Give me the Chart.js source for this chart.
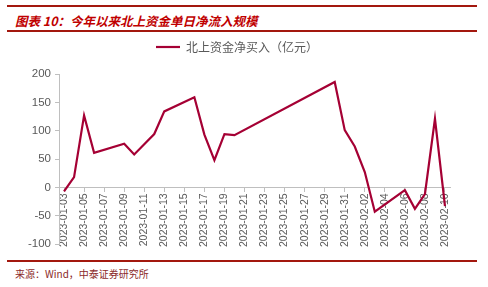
<!DOCTYPE html>
<html>
<head>
<meta charset="utf-8">
<script src="https://cdn.jsdelivr.net/npm/chart.js@4"></script>
<style>
  body { margin: 0; background: #fff; width: 488px; height: 287px; position: relative; overflow: hidden; font-family: "Noto Sans CJK SC", sans-serif; }
  .rule { position: absolute; left: 7px; width: 470px; background: #a3180e; }
  .title { position: absolute; left: 15px; top: 11px; font-size: 12.5px; font-weight: bold; font-style: italic; color: #c00000; white-space: nowrap; }
  .source { position: absolute; left: 15px; top: 266px; font-size: 10px; color: #8b2a2a; white-space: nowrap; font-family: "Noto Sans CJK SC", monospace; }
  #wrap { position: absolute; left: 0; top: 29px; width: 488px; height: 227px; }
</style>
</head>
<body>
<div class="rule" style="top:5px;height:2px"></div>
<div class="title">图表 10：今年以来北上资金单日净流入规模</div>
<div class="rule" style="top:30px;height:2px"></div>
<div id="wrap"><canvas id="northbound"></canvas></div>
<div class="rule" style="top:260px;height:2px"></div>
<div class="source">来源：Wind，中泰证券研究所</div>

<script>
// trading days and net buy (亿元)
const tradeDates = ['2023-01-03', '2023-01-04', '2023-01-05', '2023-01-06', '2023-01-09', '2023-01-10',
  '2023-01-11', '2023-01-12', '2023-01-13', '2023-01-16', '2023-01-17', '2023-01-18', '2023-01-19',
  '2023-01-20', '2023-01-30', '2023-01-31', '2023-02-01', '2023-02-02', '2023-02-03', '2023-02-06',
  '2023-02-07', '2023-02-08', '2023-02-09', '2023-02-10'];
const netBuy = [-7, 18, 127, 61, 77, 58, 76, 94, 134, 159, 93, 48, 94, 92, 186, 101, 72, 27, -43, -5,
  -38, -12, 121, -33];
const yTicks = [-100, -50, 0, 50, 100, 150, 200];

// calendar axis: every day from first to last trading day
const dayLabels = [];
let d = new Date(tradeDates[0] + 'T00:00:00Z');
const last = new Date(tradeDates[tradeDates.length - 1] + 'T00:00:00Z');
while (d <= last) {
  dayLabels.push(d.toISOString().slice(0, 10));
  d = new Date(d.getTime() + 86400000);
}
const series = dayLabels.map(l => {
  const i = tradeDates.indexOf(l);
  return i >= 0 ? netBuy[i] : null;
});

const axisGrey = '#bfbfbf';
const textGrey = '#595959';

// extra room under the legend
const legendGap = {
  id: 'legendGap',
  beforeInit(chart) {
    const fit = chart.legend.fit;
    chart.legend.fit = function () {
      fit.bind(chart.legend)();
      this.height += 11;
    };
  }
};

const ctx_nb = document.getElementById('northbound');

new Chart(ctx_nb, {
  type: 'line',
  data: {
    labels: dayLabels,
    datasets: [{
      label: '北上资金净买入（亿元）',
      data: series,
      borderColor: '#a50034',
      backgroundColor: '#a50034',
      borderWidth: 2.2,
      pointRadius: 0,
      tension: 0,
      spanGaps: true
    }]
  },
  options: {
    responsive: true,
    maintainAspectRatio: false,
    animation: false,
    layout: {
      padding: { left: 24, right: 38, top: 0, bottom: 12 }
    },
    scales: {
      x: {
        type: 'category',
        offset: true,
        position: { y: 0 },
        afterFit: (scale) => { scale.height = 0; },
        border: { display: true, color: axisGrey, width: 1 },
        grid: {
          display: true,
          drawOnChartArea: false,
          drawTicks: true,
          tickLength: 4,
          offset: false,
          color: (c) => (c.index % 2 === 0 ? axisGrey : 'rgba(0,0,0,0)')
        },
        ticks: {
          autoSkip: false,
          minRotation: 90,
          maxRotation: 90,
          padding: 2,
          color: textGrey,
          font: { family: 'Liberation Sans, Arial', size: 10.5 },
          callback: function (val, idx) {
            return idx % 2 === 0 ? this.getLabelForValue(val) : '';
          }
        }
      },
      y: {
        min: -100,
        max: 200,
        afterBuildTicks: (scale) => { scale.ticks = yTicks.map(v => ({ value: v })); },
        border: { display: true, color: axisGrey, width: 1 },
        grid: {
          drawOnChartArea: false,
          drawTicks: true,
          tickLength: 4,
          color: axisGrey
        },
        ticks: {
          color: textGrey,
          padding: 4,
          font: { family: 'Liberation Sans, Arial', size: 11.5 }
        }
      }
    },
    plugins: {
      legend: {
        display: true,
        position: 'top',
        labels: {
          color: textGrey,
          usePointStyle: true,
          pointStyle: 'line',
          pointStyleWidth: 24,
          boxHeight: 2,
          padding: 12,
          font: { family: 'Noto Sans CJK SC', size: 12 }
        }
      },
      tooltip: { enabled: false }
    }
  },
  plugins: [legendGap]
});
</script>
</body>
</html>
